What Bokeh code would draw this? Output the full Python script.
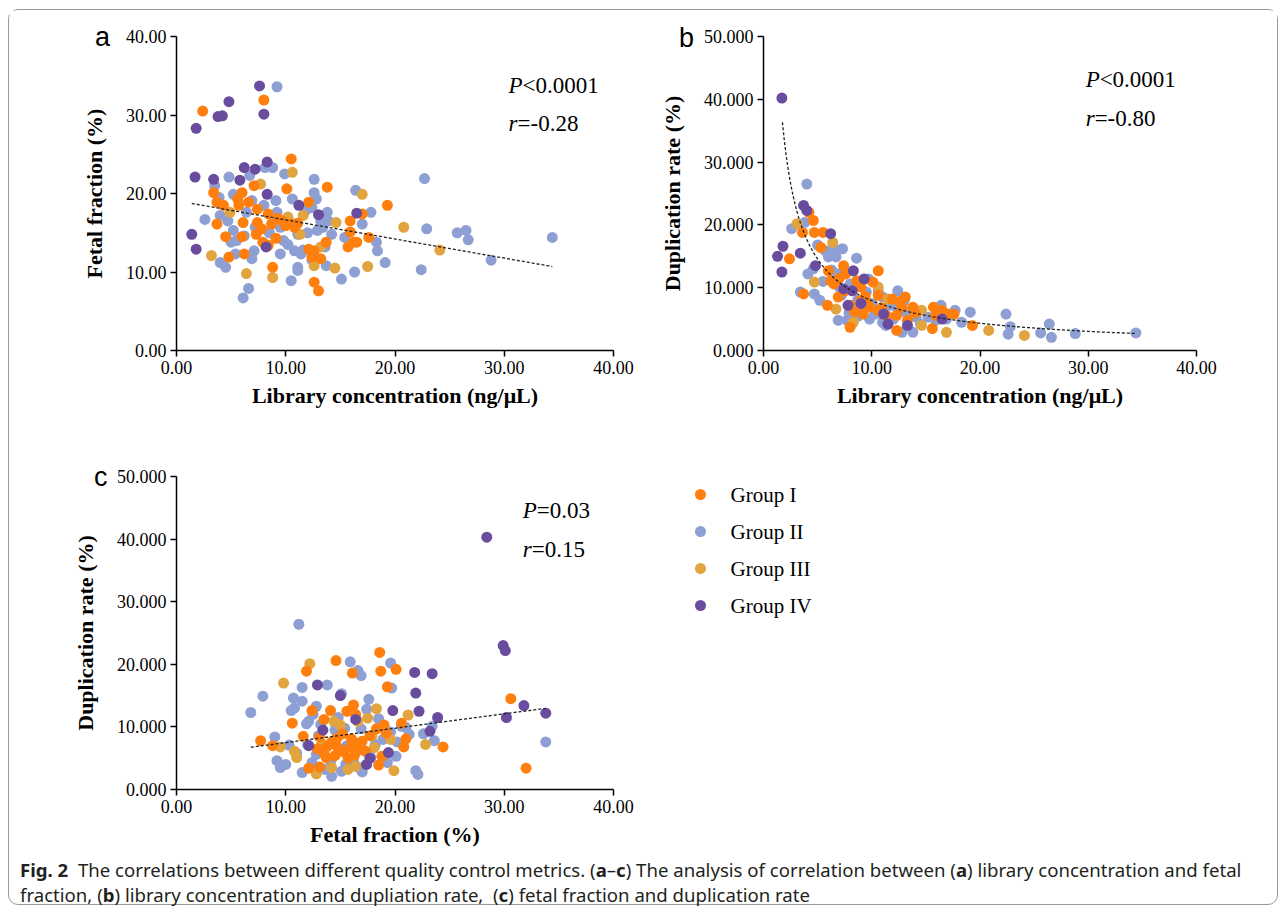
import numpy as np
from bokeh.plotting import figure
from bokeh.models import FixedTicker, PrintfTickFormatter, Label, Div, Range1d, Title
from bokeh.layouts import column, row
from bokeh.embed import file_html
from bokeh.resources import INLINE
from bokeh.core.properties import value

GROUPS = ["Group I", "Group II", "Group III", "Group IV"]
COLORS = ["#FF7F0E", "#8E9FD3", "#E2A43F", "#6A4C9E"]

# ---------------- Panel a: library concentration (ng/uL) vs fetal fraction (%)
a_I_x = [2.4, 8.0, 10.5, 3.4, 3.7, 4.3, 3.7, 4.5, 4.8, 5.6, 5.7, 6.0, 6.1, 6.0, 6.2, 6.6, 7.1, 7.4, 7.4, 7.3,
         7.8, 7.9, 8.4, 8.7, 8.4, 8.8, 9.1, 9.3, 9.7, 10.1, 10.0, 10.5, 10.8, 11.1, 12.1, 12.1, 12.6, 12.4,
         13.2, 12.6, 13.0, 13.7, 13.8, 15.9, 15.9, 15.7, 16.2, 16.5, 17.0, 17.6, 19.3]
a_I_y = [30.5, 31.9, 24.4, 20.1, 18.9, 18.5, 16.1, 14.5, 11.9, 19.3, 18.5, 20.1, 16.3, 14.5, 12.3, 18.9, 21.0,
         18.0, 16.3, 14.8, 15.5, 13.8, 17.4, 16.1, 13.4, 10.6, 14.3, 16.8, 16.5, 20.6, 15.9, 16.1, 15.7, 16.2,
         18.9, 12.9, 12.7, 11.9, 11.7, 8.7, 7.6, 13.8, 20.8, 16.5, 15.1, 13.2, 13.8, 13.8, 17.4, 14.4, 18.5]
a_II_x = [2.6, 3.5, 3.9, 4.0, 4.0, 4.5, 4.8, 4.7, 5.2, 5.5, 5.4, 5.2, 6.1, 6.6, 6.4, 6.7, 6.9, 7.1, 6.9, 7.2,
          8.1, 8.8, 9.1, 9.2, 9.5, 9.5, 9.9, 9.8, 10.5, 10.6, 10.8, 11.1, 11.1, 11.4, 11.1, 11.8, 12.6, 12.6,
          12.8, 12.4, 12.9, 13.2, 13.4, 13.6, 13.8, 13.9, 13.7, 12.4, 15.1, 15.4, 16.3, 16.4, 17.0, 17.8, 18.3,
          18.4, 19.1, 22.4, 22.7, 22.9, 25.7, 26.5, 26.7, 28.8, 34.4, 9.2, 10.8, 5.0, 6.2, 8.0, 8.5, 10.2,
          12.0, 14.2, 11.6]
a_II_y = [16.7, 21.0, 19.5, 17.2, 11.2, 10.6, 22.1, 16.5, 19.9, 14.0, 12.3, 15.3, 6.7, 7.9, 17.6, 22.3, 19.1,
          12.7, 11.7, 15.7, 23.3, 23.3, 19.1, 17.6, 12.3, 15.7, 22.5, 14.0, 8.9, 19.3, 12.7, 10.6, 10.2, 12.3,
          14.8, 17.8, 21.8, 20.1, 19.3, 18.2, 15.3, 16.5, 15.7, 13.2, 17.6, 16.5, 10.8, 11.5, 9.1, 14.4, 10.0,
          20.4, 16.1, 17.6, 13.8, 12.7, 11.2, 10.3, 21.9, 15.5, 15.0, 15.3, 14.1, 11.5, 14.4, 33.6, 16.1, 13.8,
          14.6, 18.5, 15.0, 13.5, 15.0, 14.8, 12.8]
a_III_x = [3.2, 4.9, 6.4, 7.7, 8.8, 10.6, 10.2, 11.3, 11.6, 12.6, 13.2, 14.6, 14.5, 17.0, 17.5, 20.8, 24.1]
a_III_y = [12.1, 17.6, 9.8, 21.2, 9.3, 22.7, 17.0, 14.8, 17.2, 10.8, 13.2, 16.3, 10.5, 19.9, 10.7, 15.7, 12.8]
a_IV_x = [1.4, 1.8, 1.7, 1.8, 3.4, 3.8, 4.2, 4.8, 5.8, 6.2, 7.2, 7.6, 8.0, 8.3, 8.3, 8.2, 11.2, 13.0, 16.5]
a_IV_y = [14.8, 12.9, 22.1, 28.3, 21.8, 29.8, 29.9, 31.7, 21.7, 23.3, 23.1, 33.7, 30.1, 24.0, 19.9, 13.2, 18.5,
          17.3, 17.5]

# ---------------- Panel b: library concentration (ng/uL) vs duplication rate (%)
b_I_x = [2.4, 3.6, 3.7, 4.2, 4.6, 4.7, 5.5, 5.3, 6.0, 6.2, 5.9, 6.5, 7.4, 7.6, 7.5, 6.9, 8.0, 8.0, 8.6, 9.0,
         9.0, 9.2, 9.8, 10.1, 10.6, 10.6, 10.6, 11.1, 11.9, 12.3, 12.3, 12.8, 13.1, 13.3, 13.8, 15.6, 15.7,
         15.9, 16.5, 17.0, 17.6, 19.3, 8.4, 9.6, 10.9, 12.6, 14.0, 7.0, 11.4, 9.4]
b_I_y = [14.6, 18.8, 9.0, 22.0, 20.7, 18.8, 18.8, 16.4, 12.7, 11.1, 7.2, 10.6, 13.5, 12.2, 9.5, 8.5, 3.7, 7.2,
         11.1, 10.1, 8.0, 5.8, 6.9, 10.9, 12.7, 8.8, 6.4, 5.8, 8.2, 5.6, 3.2, 6.9, 8.5, 4.8, 6.9, 3.5, 6.9,
         5.6, 6.4, 5.8, 5.8, 4.0, 6.2, 7.4, 6.8, 7.8, 6.0, 11.5, 5.5, 8.6]
b_II_x = [2.6, 3.8, 4.0, 4.1, 4.6, 3.4, 4.7, 5.2, 5.7, 6.0, 6.4, 6.7, 6.9, 7.0, 7.3, 6.9, 7.7, 8.6, 8.7, 9.5,
          9.8, 10.3, 11.3, 11.0, 10.6, 12.4, 12.3, 12.8, 13.8, 14.1, 15.2, 15.9, 16.4, 16.9, 17.7, 18.3, 19.1,
          22.4, 22.6, 22.8, 25.6, 26.4, 26.6, 28.8, 34.4, 9.7, 8.0, 5.5, 6.3, 7.9, 8.8, 10.0, 11.6, 12.0, 13.2,
          14.5, 7.2, 9.2, 11.0, 13.0, 5.0, 6.8]
b_II_y = [19.4, 20.4, 26.5, 12.2, 13.0, 9.3, 9.0, 8.0, 15.9, 14.9, 16.4, 14.9, 12.2, 10.1, 16.2, 4.8, 4.8, 14.7,
          8.0, 9.3, 5.0, 5.8, 4.0, 4.5, 9.5, 9.5, 6.9, 2.9, 2.9, 5.3, 5.3, 4.8, 7.2, 5.0, 6.4, 4.5, 6.1, 5.8,
          2.6, 3.8, 2.8, 4.2, 2.1, 2.7, 2.8, 11.4, 10.6, 11.0, 12.8, 6.0, 5.5, 7.5, 7.2, 5.0, 6.0, 4.2, 8.8,
          6.8, 8.5, 8.0, 16.8, 16.0]
b_III_x = [3.1, 6.4, 4.7, 6.7, 8.3, 10.6, 11.5, 14.6, 14.6, 16.9, 20.8, 24.1]
b_III_y = [20.2, 17.2, 10.9, 6.6, 4.5, 10.1, 8.2, 6.4, 4.0, 2.9, 3.2, 2.4]
b_IV_x = [1.7, 1.3, 1.8, 1.7, 3.4, 3.7, 4.0, 4.8, 6.2, 8.3, 9.3, 8.2, 7.8, 11.5, 13.3, 16.5, 11.1, 9.0, 7.4]
b_IV_y = [40.2, 15.0, 16.6, 12.5, 15.5, 23.1, 22.3, 13.5, 18.6, 12.7, 11.4, 9.5, 7.2, 4.2, 4.0, 5.0, 5.8, 7.5,
          9.8]

# ---------------- Panel c: fetal fraction (%) vs duplication rate (%)
c_I_x = [7.7, 8.8, 10.6, 11.9, 11.6, 12.1, 12.4, 13.1, 13.5, 14.1, 14.6, 14.7, 15.6, 16.2, 16.1, 16.4, 17.0,
         18.6, 18.7, 19.3, 20.1, 20.6, 21.0, 20.8, 18.3, 19.0, 19.2, 18.5, 18.8, 24.4, 30.6, 32.0, 12.9, 13.5,
         13.8, 14.5, 14.8, 15.3, 15.9, 16.3, 16.8, 17.3, 13.7, 16.0, 14.2, 15.2, 16.6, 14.6, 15.7, 17.7, 13.1]
c_I_y = [7.8, 7.0, 10.6, 18.9, 8.5, 3.4, 12.6, 3.6, 11.2, 12.6, 20.6, 8.2, 12.5, 13.5, 18.6, 12.0, 7.7, 21.9,
         18.9, 16.4, 19.2, 10.6, 8.1, 6.8, 9.7, 10.3, 9.0, 3.9, 5.3, 6.8, 14.5, 3.4, 6.5, 5.8, 6.9, 5.4, 6.6,
         6.0, 6.8, 5.5, 6.4, 6.1, 5.1, 8.1, 7.6, 8.9, 7.4, 7.1, 5.0, 8.6, 8.4]
c_II_x = [6.8, 7.9, 9.0, 9.2, 10.0, 10.7, 10.8, 11.2, 11.5, 11.5, 12.1, 12.0, 11.5, 12.8, 13.8, 14.2, 15.1,
          15.9, 15.1, 16.6, 16.9, 17.4, 17.6, 19.6, 19.7, 21.9, 22.1, 22.6, 23.4, 23.6, 33.8, 20.1, 19.3, 16.7,
          14.1, 12.8, 18.2, 15.4, 20.6, 9.5, 10.5, 11.9, 13.0, 14.5, 16.2, 17.8, 18.9, 21.3, 12.4, 12.5, 13.2,
          14.8, 15.6, 16.9, 17.2, 18.5, 19.6, 20.2, 21.0, 11.0, 10.3, 13.6, 15.5, 17.0]
c_II_y = [12.3, 14.9, 8.4, 4.6, 4.0, 14.6, 13.0, 26.4, 16.3, 14.1, 10.9, 7.2, 2.7, 13.3, 16.7, 2.1, 2.9, 20.4,
          15.3, 19.0, 18.2, 12.8, 14.4, 20.2, 16.2, 3.0, 2.4, 8.9, 10.1, 7.8, 7.6, 5.3, 4.3, 3.5, 4.5, 5.6, 7.2,
          9.8, 10.1, 3.5, 12.6, 10.5, 8.6, 9.5, 4.6, 5.1, 8.0, 8.8, 4.3, 12.0, 10.4, 11.5, 7.0, 9.7, 6.2, 11.3,
          9.2, 7.6, 9.9, 5.8, 7.1, 3.2, 4.0, 2.8]
c_III_x = [9.8, 12.2, 9.5, 10.8, 11.0, 12.8, 14.2, 15.7, 16.4, 16.6, 17.5, 18.3, 19.9, 19.6, 21.2, 22.8, 14.4,
           18.1, 13.3, 15.0, 17.9]
c_III_y = [17.0, 20.1, 6.8, 6.1, 5.1, 2.5, 3.5, 3.2, 3.7, 10.9, 11.4, 12.9, 3.0, 8.0, 11.9, 7.2, 10.9, 6.7,
           7.3, 10.3, 8.6]
c_IV_x = [28.4, 29.9, 30.1, 30.2, 31.8, 33.8, 21.8, 23.4, 21.9, 22.2, 23.9, 23.2, 19.8, 12.9, 15.0, 13.4, 12.1,
          16.4, 17.4, 17.7, 19.4]
c_IV_y = [40.3, 23.0, 22.2, 11.5, 13.4, 12.2, 18.7, 18.5, 15.4, 12.5, 11.5, 9.3, 12.6, 16.7, 15.0, 9.5, 7.0,
          11.2, 4.0, 5.0, 5.9]

# trend fits: coefficients and drawn x-extent
TREND_A = (19.07, -0.2434)   # linear: intercept, slope
TREND_A_X = (1.4, 34.4)
TREND_B = (59.2, -0.872)     # power:  a * x**b
TREND_B_X = (1.75, 34.4)
TREND_C = (5.19, 0.230)      # linear: intercept, slope
TREND_C_X = (6.8, 33.8)

STATS = {"a": ("P", "<0.0001", "r", "=-0.28"),
         "b": ("P", "<0.0001", "r", "=-0.80"),
         "c": ("P", "=0.03", "r", "=0.15")}

X_TICKS = [0, 10, 20, 30, 40]
SERIF = "Liberation Serif"

DRAW_ORDER = [1, 2, 0, 3]


def make_panel(width, height, mbl, mbr, mbt, mbb, ymax, yfmt, xlabel, ylabel):
    p = figure(width=width, height=height, x_range=Range1d(0, 40), y_range=Range1d(0, ymax),
               output_backend="svg", toolbar_location=None,
               min_border_left=mbl, min_border_right=mbr, min_border_top=mbt, min_border_bottom=mbb)
    p.grid.visible = False
    p.outline_line_color = None
    p.xaxis.ticker = FixedTicker(ticks=X_TICKS)
    p.yaxis.ticker = FixedTicker(ticks=list(range(0, ymax + 1, 10)))
    p.xaxis.formatter = PrintfTickFormatter(format="%.2f")
    p.yaxis.formatter = PrintfTickFormatter(format=yfmt)
    p.xaxis.axis_label = xlabel
    p.yaxis.axis_label = ylabel
    for ax in (p.xaxis, p.yaxis):
        ax.axis_line_width = 1.5
        ax.axis_line_color = "black"
        ax.major_tick_line_width = 1.5
        ax.major_tick_line_color = "black"
        ax.major_tick_in = 0
        ax.major_tick_out = 6
        ax.minor_tick_line_color = None
        ax.major_label_text_font = SERIF
        ax.major_label_text_font_size = "18px"
        ax.major_label_text_color = "black"
        ax.major_label_standoff = 4
        ax.axis_label_text_font = SERIF
        ax.axis_label_text_font_size = "22px"
        ax.axis_label_text_font_style = "bold"
        ax.axis_label_text_color = "black"
    p.yaxis.axis_label_standoff = 16
    p.xaxis.axis_label_standoff = 6
    return p


def add_points(p, xs, ys):
    for gi in DRAW_ORDER:
        p.scatter(xs[gi], ys[gi], size=11, marker="circle", fill_color=COLORS[gi], line_color=None)


def add_stats(p, key, x, y1, y2):
    s = STATS[key]
    kw = dict(text_font=SERIF, text_font_size="23px", text_color="black")
    p.add_layout(Label(x=x, y=y1, text=s[0], text_font_style="italic", **kw))
    p.add_layout(Label(x=x, y=y1, x_offset=14, text=s[1], **kw))
    p.add_layout(Label(x=x, y=y2, text=s[2], text_font_style="italic", **kw))
    p.add_layout(Label(x=x, y=y2, x_offset=9, text=s[3], **kw))


def add_letter(p, text, offset, standoff):
    p.add_layout(Title(text=text, align="left", offset=offset, standoff=standoff, vertical_align="bottom",
                       text_font="Liberation Sans", text_font_size="27px", text_font_style="normal",
                       text_color="black"), "above")


def trend_line(p, xr, fn):
    xs = np.linspace(xr[0], xr[1], 200)
    p.line(xs, fn(xs), line_color="#222222", line_width=1.3, line_dash="3 2")


# ---- panel a
pa = make_panel(631, 420, 167, 27, 25, 80, 40, "%.2f", "Library concentration (ng/\u03bcL)", "Fetal fraction (%)")
add_points(pa, [a_I_x, a_II_x, a_III_x, a_IV_x], [a_I_y, a_II_y, a_III_y, a_IV_y])
trend_line(pa, TREND_A_X, lambda x: TREND_A[0] + TREND_A[1] * x)
add_stats(pa, "a", 30.4, 32.2, 27.35)
add_letter(pa, "a", -81.5, -31)

# ---- panel b
pb = make_panel(637, 420, 123, 81, 26, 80, 50, "%.3f", "Library concentration (ng/\u03bcL)", "Duplication rate (%)")
add_points(pb, [b_I_x, b_II_x, b_III_x, b_IV_x], [b_I_y, b_II_y, b_III_y, b_IV_y])
trend_line(pb, TREND_B_X, lambda x: TREND_B[0] * x ** TREND_B[1])
add_stats(pb, "b", 29.76, 41.1, 35.0)
add_letter(pb, "b", -84.5, -32)

# ---- panel c
pc = make_panel(631, 427, 167, 27, 46, 68, 50, "%.3f", "Fetal fraction (%)", "Duplication rate (%)")
add_points(pc, [c_I_x, c_II_x, c_III_x, c_IV_x], [c_I_y, c_II_y, c_III_y, c_IV_y])
trend_line(pc, TREND_C_X, lambda x: TREND_C[0] + TREND_C[1] * x)
add_stats(pc, "c", 31.7, 42.5, 36.4)
add_letter(pc, "c", -82.5, -30)

# ---- legend panel (its frame is aligned with panel c's frame in the row)
LW, LH = 637, 427
FR_TOP, FR_BOT = 46, 427 - 68
lg = figure(width=LW, height=LH, x_range=Range1d(0, LW), y_range=Range1d(FR_BOT, FR_TOP),
            output_backend="svg", toolbar_location=None, min_border_left=0, min_border_right=0,
            min_border_top=FR_TOP, min_border_bottom=LH - FR_BOT,
            x_axis_type=None, y_axis_type=None)
lg.grid.visible = False
lg.outline_line_color = None
LEG_MX, LEG_TX, LEG_Y0, LEG_DY = 60, 90, 64, 37
leg_y = [LEG_Y0 + i * LEG_DY for i in range(len(GROUPS))]
lg.scatter([LEG_MX] * len(GROUPS), leg_y, size=11, marker="circle", fill_color=COLORS, line_color=None)
lg.text([LEG_TX] * len(GROUPS), leg_y, text=GROUPS, text_font=value(SERIF), text_font_size="21px",
        text_baseline="middle", text_align="left", text_color="black")

caption_html = (
    '<div style="font-family:\'Noto Sans\';font-size:18.6px;line-height:25px;color:#231f20;'
    'padding-left:11px;padding-top:0px;white-space:nowrap;">'
    '<b>Fig. 2</b>&nbsp; The correlations between different quality control metrics. '
    '(<b>a</b>\u2013<b>c</b>) The analysis of correlation between (<b>a</b>) library concentration and fetal<br>'
    'fraction, (<b>b</b>) library concentration and dupliation rate,&nbsp; (<b>c</b>) fetal fraction and '
    'duplication rate</div>'
)
cap = Div(text=caption_html, width=1267, height=47, margin=0)

layout = column(row(pa, pb), row(pc, lg), cap, margin=(9, 0, 0, 8),
                styles={"border": "1px solid #9a9a9a", "border-radius": "10px", "background": "white"})

open("out.html", "w").write(file_html(layout, INLINE))
